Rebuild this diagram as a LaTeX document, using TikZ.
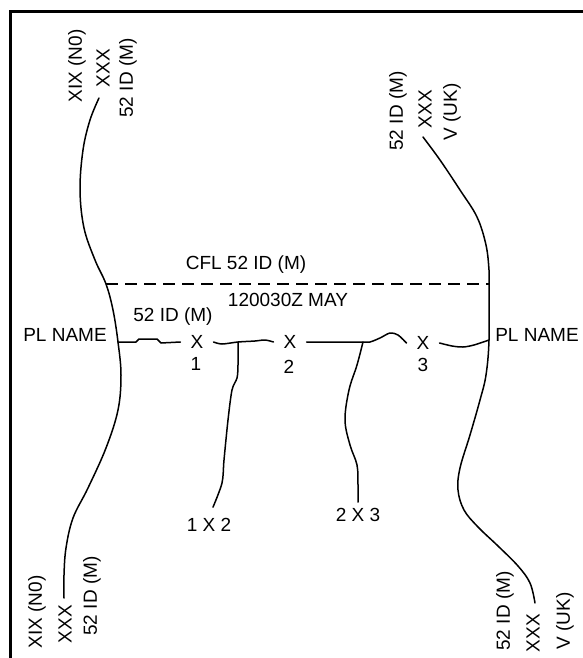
\documentclass[tikz,border=0pt]{standalone}
\usepackage{fontspec}
\setmainfont{Liberation Sans}
\usepackage{tikz}
\usetikzlibrary{calc}

\begin{document}
\begin{tikzpicture}[x=1pt, y=-1pt,
  lbl/.style={font=\fontsize{19}{22}\selectfont, inner sep=0pt},
  vlbl/.style={lbl, rotate=90},
  xmark/.style={lbl, inner xsep=10pt},
  bnd/.style={line width=1.5pt, line cap=round, line join=round},
  cfl/.style={line width=2pt, dash pattern=on 12pt off 7pt}]
  \useasboundingbox (0,0) rectangle (583,658);
  % Frame (top and left only)
  \draw[line width=3pt] (10,658) -- (10,12) -- (583,12);
  % Boundary ends
  \coordinate (ltop) at (99,98);
  \coordinate (ldash) at (106,284);
  \coordinate (lpl) at (118,342);
  \coordinate (lbot) at (64,598);
  \coordinate (rtop) at (423,137);
  \coordinate (rdash) at (489,284);
  \coordinate (rpl) at (489,340);
  \coordinate (rbot) at (535,603);
  % Boundary labels
  \node[vlbl] (ltxix) at (77,66) {XIX (N0)};
  \node[vlbl] (ltxxx) at (103,68) {XXX};
  \node[vlbl] (lt52) at (128,78) {52 ID (M)};
  \node[vlbl] (lbxix) at (37,612) {XIX (N0)};
  \node[vlbl] (lbxxx) at (65,624) {XXX};
  \node[vlbl] (lb52) at (92,596) {52 ID (M)};
  \node[vlbl] (rt52) at (398,111) {52 ID (M)};
  \node[vlbl] (rtxxx) at (425,109) {XXX};
  \node[vlbl] (rtv) at (452,112) {V (UK)};
  \node[vlbl] (rb52) at (505,611) {52 ID (M)};
  \node[vlbl] (rbxxx) at (533,633) {XXX};
  \node[vlbl] (rbv) at (565,621) {V (UK)};
  % Left boundary
  \draw[bnd] plot[smooth, tension=0.6] coordinates {(ltop) (90,120) (83,150) (80,190) (84,228) (95,260) (ldash) (113,310) (lpl) (121,375) (118,410) (106,448) (88,488) (73,518) (66,548) (64,575) (lbot)};
  % Right boundary
  \draw[bnd] plot[smooth, tension=0.6] coordinates {(rtop) (440,160) (460,190) (477,217) (486,245) (489,270) (rdash) (rpl) (486,375) (480,400) (470,435) (460,468) (458,490) (464,510) (478,527) (498,546) (518,566) (530,583) (rbot)};
  % Coordinated fire line
  \draw[cfl] (ldash) -- (rdash);
  \node[lbl] (cfltxt) at (246,265) {CFL 52 ID (M)};
  \node[lbl] (dtg) at (288,300) {120030Z MAY};
  % Phase line and unit positions
  \node[lbl] (lplname) at (65,335) {PL NAME};
  \node[lbl] (rplname) at (537,335) {PL NAME};
  \node[lbl] (pl52) at (173,317) {52 ID (M)};
  \node[xmark] (x1) at (197,342) {X};
  \node[xmark] (x2) at (290,342) {X};
  \node[xmark] (x3) at (423,343) {X};
  \node[lbl] (d1) at (196,364) {1};
  \node[lbl] (d2) at (289,367) {2};
  \node[lbl] (d3) at (423,365) {3};
  \coordinate (b1) at (238,342);
  \coordinate (b2) at (363,342);
  \draw[bnd] (lpl) -- (136,342) -- (139,339) -- (157,339) -- (161,343) -- (x1.west);
  \draw[bnd] plot[smooth, tension=0.5] coordinates {(x1.east) (222,344) (b1) (255,341) (265,340) (x2.west)};
  \draw[bnd] plot[smooth, tension=0.5] coordinates {(x2.east) (b2) (370,342) (380,338) (390,333) (398,335) (x3.west)};
  \draw[bnd] plot[smooth, tension=0.5] coordinates {(x3.east) (452,346) (463,347) (474,345) (rpl)};
  % Boundaries between units
  \node[lbl] (n12) at (209,525) {1 X 2};
  \node[lbl] (n23) at (358,515) {2 X 3};
  \coordinate (e12) at ($(n12.north)+(4,-11)$);
  \coordinate (e23) at ($(n23.north)+(0,-6)$);
  \draw[bnd] plot[smooth, tension=0.5] coordinates {(b1) (238,365) (237,378) (232,390) (228,420) (224,460) (222,483) (e12)};
  \draw[bnd] plot[smooth, tension=0.6] coordinates {(b2) (357,365) (349,390) (345,420) (350,445) (357,465) (358,485) (e23)};
\end{tikzpicture}
\end{document}
